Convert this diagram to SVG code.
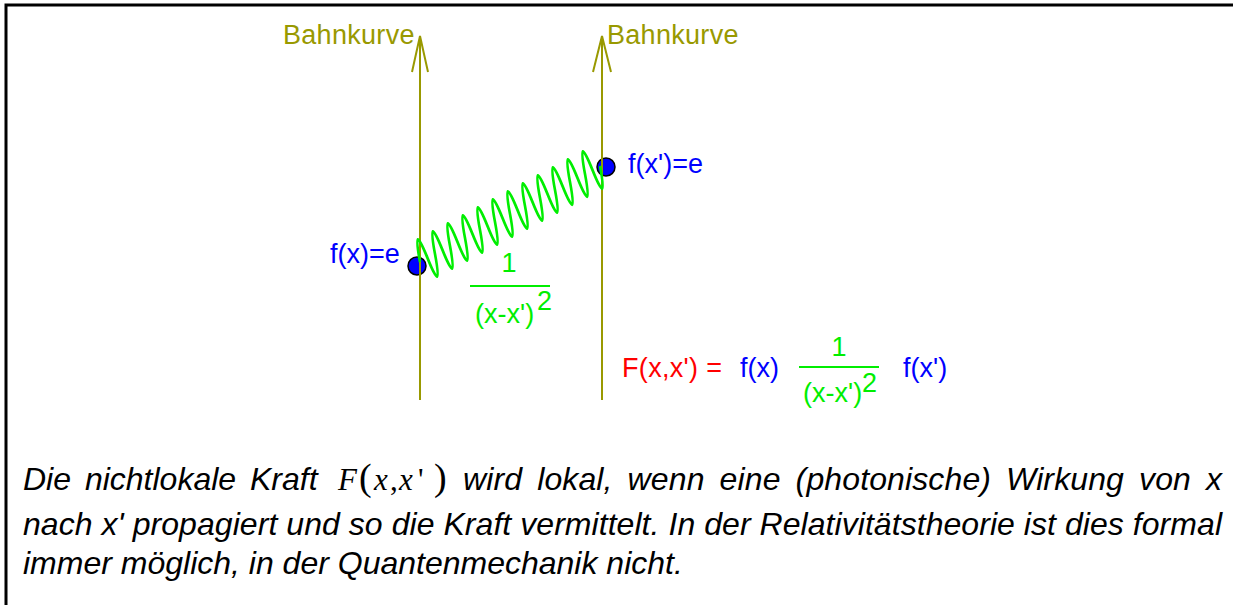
<svg xmlns="http://www.w3.org/2000/svg" width="1233" height="605" viewBox="0 0 1233 605">
<style>
.ol{stroke:#999900;stroke-width:2;fill:none}
.lbl{font-family:"Liberation Sans",Arial,sans-serif;font-size:27px}
.olt{fill:#999900}
.bl{fill:#0000ff}
.gr{fill:#00ee00}
.rd{fill:#ff0000}
.par{font-family:"Liberation Sans",Arial,sans-serif;font-style:italic;font-size:32px;fill:#000}
.math{font-family:"Liberation Serif","Times New Roman",serif;font-size:31px;fill:#000}
.dot{fill:#0000ff;stroke:#000;stroke-width:1.5}
</style>
<rect x="0" y="0" width="1233" height="605" fill="#fff"/>
<path d="M6,605 V5 H1233" stroke="#000" stroke-width="3" fill="none"/>

<g id="trajectory-left">
<line class="ol" x1="420" y1="37" x2="420" y2="400"/>
<path class="ol" d="M412,72 L420,36 L428,72"/>
<text class="lbl olt" x="283" y="44" letter-spacing="0.3">Bahnkurve</text>
</g>
<g id="trajectory-right">
<line class="ol" x1="602" y1="37" x2="602" y2="400"/>
<path class="ol" d="M593,72 L602,36 L611,72"/>
<text class="lbl olt" x="607" y="44" letter-spacing="0.3">Bahnkurve</text>
</g>

<g id="charge-left">
<circle class="dot" cx="417" cy="266" r="9"/>
<line class="ol" x1="420" y1="255" x2="420" y2="277"/>
<text class="lbl bl" x="330" y="263">f(x)=e</text>
</g>
<g id="charge-right">
<circle class="dot" cx="606" cy="167" r="9"/>
<line class="ol" x1="602" y1="156" x2="602" y2="178"/>
<text class="lbl bl" x="628" y="173">f(x')=e</text>
</g>

<g id="connectors">
<path transform="translate(420,262) rotate(-28.07) skewX(-12)" fill="none" stroke="#00ee00" stroke-width="2.8" stroke-linejoin="round" d="M0,0 q4.25,-42 8.5,0 t8.5,0 t8.5,0 t8.5,0 t8.5,0 t8.5,0 t8.5,0 t8.5,0 t8.5,0 t8.5,0 t8.5,0 t8.5,0 t8.5,0 t8.5,0 t8.5,0 t8.5,0 t8.5,0 t8.5,0 t8.5,0 t8.5,0 t8.5,0 t8.5,0 t8.5,0 t8.5,0"/>
</g>

<g id="propagator">
<text class="lbl gr" x="509" y="272" text-anchor="middle" font-size="24">1</text>
<line x1="470" y1="286" x2="550" y2="286" stroke="#00ee00" stroke-width="2"/>
<text class="lbl gr" x="475" y="323" font-size="23">(x-x')</text>
<text class="lbl gr" x="537" y="310" font-size="18">2</text>
</g>

<g id="formula">
<text class="lbl rd" x="622" y="377" textLength="100" lengthAdjust="spacing">F(x,x') =</text>
<text class="lbl bl" x="740" y="377">f(x)</text>
<text class="lbl gr" x="839" y="356" text-anchor="middle" font-size="24">1</text>
<line x1="799" y1="367" x2="879" y2="367" stroke="#00ee00" stroke-width="2"/>
<text class="lbl gr" x="803" y="402" font-size="23">(x-x')</text>
<text class="lbl gr" x="862" y="392" font-size="18">2</text>
<text class="lbl bl" x="903" y="377">f(x')</text>
</g>

<g id="caption">
<text class="par" x="23" y="490" word-spacing="5">Die nichtlokale Kraft</text>
<text class="math" y="490"><tspan x="338" font-style="italic">F</tspan><tspan x="359" font-size="38">(</tspan><tspan x="374" font-style="italic">x</tspan><tspan x="390">,</tspan><tspan x="399" font-style="italic">x</tspan><tspan x="418">'</tspan><tspan x="434" font-size="38">)</tspan></text>
<text class="par" x="463" y="490" textLength="759" lengthAdjust="spacing" word-spacing="6">wird lokal, wenn eine (photonische) Wirkung von x</text>
<text class="par" x="23" y="535" textLength="1199" lengthAdjust="spacing">nach x' propagiert und so die Kraft vermittelt. In der Relativitätstheorie ist dies formal</text>
<text class="par" x="23" y="574">immer möglich, in der Quantenmechanik nicht.</text>
</g>
</svg>
